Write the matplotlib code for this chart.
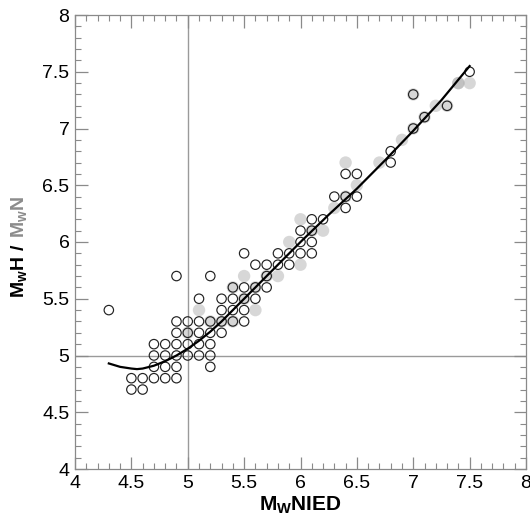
import matplotlib
matplotlib.use("Agg")
import matplotlib.pyplot as plt
import numpy as np
from matplotlib.ticker import MultipleLocator

# ---------------------------------------
# Data
# ---------------------------------------
# open circles: MwH vs MwNIED
mwh_x = [4.5, 4.6,
         4.5, 4.6, 4.7, 4.8, 4.9,
         4.7, 4.8, 4.9, 5.2,
         4.7, 4.8, 4.9, 5.0, 5.1, 5.2,
         4.7, 4.8, 4.9, 5.0, 5.1, 5.2,
         4.9, 5.0, 5.1, 5.2, 5.3,
         4.9, 5.0, 5.1, 5.2, 5.3, 5.4, 5.5,
         4.3, 5.3, 5.4, 5.5,
         5.1, 5.3, 5.4, 5.5, 5.6,
         5.4, 5.5, 5.6, 5.7,
         4.9, 5.2, 5.7,
         5.6, 5.7, 5.8, 5.9,
         5.5, 5.8, 5.9, 6.0, 6.1,
         6.0, 6.1,
         6.0, 6.1,
         6.1, 6.2,
         6.4,
         6.3, 6.4, 6.5,
         6.4, 6.5,
         6.8, 6.8, 7.0, 7.1, 7.3, 7.0, 7.5]
mwh_y = [4.7, 4.7,
         4.8, 4.8, 4.8, 4.8, 4.8,
         4.9, 4.9, 4.9, 4.9,
         5.0, 5.0, 5.0, 5.0, 5.0, 5.0,
         5.1, 5.1, 5.1, 5.1, 5.1, 5.1,
         5.2, 5.2, 5.2, 5.2, 5.2,
         5.3, 5.3, 5.3, 5.3, 5.3, 5.3, 5.3,
         5.4, 5.4, 5.4, 5.4,
         5.5, 5.5, 5.5, 5.5, 5.5,
         5.6, 5.6, 5.6, 5.6,
         5.7, 5.7, 5.7,
         5.8, 5.8, 5.8, 5.8,
         5.9, 5.9, 5.9, 5.9, 5.9,
         6.0, 6.0,
         6.1, 6.1,
         6.2, 6.2,
         6.3,
         6.4, 6.4, 6.4,
         6.6, 6.6,
         6.7, 6.8, 7.0, 7.1, 7.2, 7.3, 7.5]

# gray dots: MwN vs MwNIED
mwn_x = [5.0, 5.1, 5.2, 5.3, 5.4, 5.4, 5.5, 5.5, 5.6, 5.6, 5.7, 5.8, 5.9,
         6.0, 6.0, 6.1, 6.2, 6.3, 6.4, 6.4, 6.5, 6.7, 6.9, 7.0, 7.0, 7.1,
         7.2, 7.3, 7.4, 7.4, 7.5]
mwn_y = [5.2, 5.4, 5.3, 5.3, 5.3, 5.6, 5.5, 5.7, 5.4, 5.6, 5.7, 5.7, 6.0,
         5.8, 6.2, 6.1, 6.1, 6.3, 6.7, 6.4, 6.5, 6.7, 6.9, 7.0, 7.3, 7.1,
         7.2, 7.2, 7.4, 7.4, 7.4]

# fitted curve
fit_x = [4.3, 4.4, 4.5, 4.55, 4.6, 4.7, 4.8, 4.9, 5.0, 5.1, 5.2, 5.3, 5.4,
         5.55, 5.7, 5.85, 6.0, 6.25, 6.5, 6.75, 7.0, 7.25, 7.5]
fit_y = [4.93, 4.90, 4.885, 4.88, 4.885, 4.91, 4.95, 5.0, 5.06, 5.13, 5.21,
         5.30, 5.40, 5.55, 5.70, 5.85, 6.0, 6.24, 6.47, 6.72, 6.98, 7.25, 7.55]

# ---------------------------------------
# Figure
# ---------------------------------------
plt.rcParams['font.family'] = ['Liberation Sans', 'DejaVu Sans']
plt.rcParams['mathtext.fontset'] = 'custom'
plt.rcParams['mathtext.rm'] = 'Liberation Sans'
plt.rcParams['mathtext.bf'] = 'Liberation Sans:bold'

fig = plt.figure(figsize=(5.30, 5.21), dpi=100)
ax = fig.add_axes([75 / 530, 1 - 469 / 521, 451 / 530, 454 / 521])

ax.axvline(5, color='#9a9a9a', lw=1.0, zorder=1)
ax.axhline(5, color='#9a9a9a', lw=1.0, zorder=1)

ax.scatter(mwn_x, mwn_y, s=80, color='#a8a8a8', alpha=0.45,
           edgecolors='none', zorder=2)
ax.scatter(mwh_x, mwh_y, s=46, facecolors='none', edgecolors='#222222',
           linewidths=0.85, zorder=3)
ax.plot(fit_x, fit_y, color='black', lw=1.6, zorder=4)

ax.set_xlim(4, 8)
ax.set_ylim(4, 8)
ax.xaxis.set_major_locator(MultipleLocator(0.5))
ax.xaxis.set_minor_locator(MultipleLocator(0.1))
ax.yaxis.set_major_locator(MultipleLocator(0.5))
ax.yaxis.set_minor_locator(MultipleLocator(0.1))
ax.xaxis.set_major_formatter(plt.FuncFormatter(lambda v, p: f"{v:g}"))
ax.yaxis.set_major_formatter(plt.FuncFormatter(lambda v, p: f"{v:g}"))
ax.tick_params(which='both', direction='in', top=True, right=True,
               color='#8a8a8a', labelsize=14, pad=4)
ax.tick_params(which='major', length=9, width=0.9)
ax.tick_params(which='minor', length=4.5, width=0.8)
for s in ax.spines.values():
    s.set_color('#8a8a8a')
    s.set_linewidth(0.9)

ax.set_xlabel(r'$\mathbf{M_{W}NIED}$', fontsize=15, labelpad=2)

# two-coloured y label
t1 = fig.text(19 / 530, 1 - 298 / 521, r'$\mathbf{M_{w}H\ /}$',
              rotation=90, ha='center', va='bottom', fontsize=14,
              color='black')
fig.canvas.draw()
bb = t1.get_window_extent().transformed(fig.transFigure.inverted())
fig.text(19 / 530, bb.y1 + 5 / 521, r'$\mathbf{M_{w}N}$', rotation=90,
         ha='center', va='bottom', fontsize=14, color='#8c8c8c')

fig.savefig('out.png', dpi=100)
